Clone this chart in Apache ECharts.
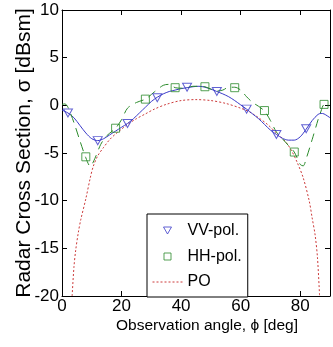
<!DOCTYPE html>
<html>
<head>
<meta charset="utf-8">
<script src="https://cdn.jsdelivr.net/npm/echarts@6/dist/echarts.min.js"></script>
<style>html,body{margin:0;padding:0;background:#fff}#c{width:333px;height:347px}</style>
</head>
<body>
<div id="c"></div>
<script>
// Marker data
const vvAngles = [2, 12, 22, 32, 42, 52, 62, 72, 82];
const vvValues = [-0.8, -3.7, -1.9, 0.8, 1.9, 1.45, -0.4, -3.05, -2.45];
const hhAngles = [8, 18, 28, 38, 48, 58, 68, 78, 88];
const hhValues = [-5.4, -2.4, 0.65, 1.85, 1.95, 1.85, -0.55, -4.9, 0.1];

// Curves
const vvCurveAngles = [0, 2, 4, 6, 8, 10, 12, 14, 16, 18, 20, 22, 24, 26, 28, 30, 32, 34, 36, 38, 40, 42, 44, 46, 48, 50, 52, 54, 56, 58, 60, 62, 64, 66, 68, 70, 72, 74, 76, 78, 80, 82, 84, 86, 87, 88, 90];
const vvCurve = [-0.5, -0.8, -1.3, -2.1, -2.9, -3.5, -3.7, -3.5, -3.1, -2.7, -2.3, -1.9, -1.4, -0.8, -0.2, 0.4, 0.85, 1.2, 1.45, 1.6, 1.75, 1.85, 1.95, 2.0, 1.9, 1.7, 1.45, 1.2, 0.9, 0.5, 0.05, -0.4, -0.9, -1.4, -2.0, -2.6, -3.05, -3.45, -3.65, -3.65, -3.3, -2.5, -1.6, -0.95, -0.85, -0.9, -1.3];
const hhCurveAngles = [0, 1, 2, 4, 6, 8, 9.5, 11, 13, 15, 18, 20, 22, 25, 28, 31, 34, 36, 38, 40, 42, 44, 46, 48, 50, 52, 54, 56, 58, 60, 62, 64, 66, 68, 70, 72, 74, 76, 78, 80, 81, 82, 84, 86, 87, 88, 90];
const hhCurve = [0.1, 0.15, -0.2, -1.8, -3.7, -5.5, -6.4, -5.6, -4.1, -3.2, -2.4, -1.5, -0.3, 0.3, 0.65, 1.4, 2.1, 2.2, 1.85, 1.8, 1.85, 2.0, 2.0, 1.95, 1.7, 1.5, 1.6, 1.9, 1.9, 1.6, 0.9, 0.3, -0.1, -0.6, -1.6, -2.8, -3.5, -4.2, -4.9, -6.2, -6.35, -5.6, -3.6, -1.5, -0.6, 0.05, 0.0];
const poAngles = [3.4, 4, 4.6, 5.5, 6.3, 8, 9.5, 10.5, 12, 14, 16, 18, 20, 22, 25, 28, 31, 35, 40, 45, 50, 55, 60, 63, 66, 69, 72, 75, 77, 79, 81, 83, 84, 85, 85.8, 86.5];
const poCurve = [-20, -17, -15.2, -13.3, -12, -9.8, -7.6, -6.4, -5.3, -4.4, -3.6, -3.0, -2.5, -2.0, -1.4, -0.9, -0.4, 0.1, 0.5, 0.6, 0.5, 0.2, -0.3, -0.7, -1.3, -2.0, -2.9, -3.8, -4.7, -6.0, -7.6, -10, -11.8, -13.6, -16, -20];

// Axis ticks
const xTicks = [0, 20, 40, 60, 80];
const yTicks = [-20, -15, -10, -5, 0, 5, 10];

const BLUE = '#3a3ac8', GREEN = '#2a8a2a', RED = '#cc3a3a';
const FONT = '"Liberation Sans", Arial, sans-serif';
const zip = (a, b) => a.map((v, i) => [v, b[i]]);

const chart = echarts.init(document.getElementById('c'), null, {renderer: 'canvas'});
const axisCommon = {
  type: 'value',
  axisLine: {show: true, onZero: false, lineStyle: {color: '#000', width: 1}},
  axisTick: {show: true, inside: true, length: 5, lineStyle: {color: '#000'}},
  splitLine: {show: false}
};
chart.setOption({
  animation: false,
  textStyle: {fontFamily: FONT},
  grid: {left: 62, right: 3, top: 10, bottom: 51, containLabel: false},
  xAxis: [
    Object.assign({}, axisCommon, {
      position: 'bottom', min: 0, max: 90, interval: 20,
      axisLabel: {show: true, color: '#000', fontSize: 17, margin: 2, showMaxLabel: false, fontFamily: FONT,
        formatter: v => xTicks.includes(v) ? String(v) : ''},
      name: 'Observation angle, \u03d5 [deg]', nameLocation: 'middle', nameGap: 22, nameMoveOverlap: false,
      nameTextStyle: {color: '#000', fontSize: 15.5, fontFamily: FONT, padding: [0, 0, 0, 22]}
    }),
    Object.assign({}, axisCommon, {
      position: 'top', min: 0, max: 90, interval: 20,
      axisLabel: {show: false}
    })
  ],
  yAxis: [
    Object.assign({}, axisCommon, {
      position: 'left', min: -20, max: 10, interval: 5,
      axisLabel: {show: true, color: '#000', fontSize: 17, margin: 3, fontFamily: FONT,
        formatter: v => yTicks.includes(v) ? String(v) : ''},
      name: 'Radar Cross Section, \u03c3 [dBsm]', nameLocation: 'middle', nameGap: 27, nameRotate: 90, nameMoveOverlap: false,
      nameTextStyle: {color: '#000', fontSize: 21, fontFamily: FONT}
    }),
    Object.assign({}, axisCommon, {
      position: 'right', min: -20, max: 10, interval: 5,
      axisLabel: {show: false}
    })
  ],
  legend: {
    orient: 'vertical', left: 147, top: 214,
    padding: [9, 6, 7, 5], itemGap: 9.5, itemWidth: 30, itemHeight: 14,
    backgroundColor: '#fff', borderColor: '#000', borderWidth: 1, borderRadius: 0,
    textStyle: {color: '#000', fontSize: 16, fontFamily: FONT},
    selectedMode: false,
    data: [
      {name: 'VV-pol.', icon: 'path://M0,0M30,14M11,3L19,3L15,10Z',
        itemStyle: {color: 'rgba(0,0,0,0)', borderColor: BLUE, borderWidth: 1}},
      {name: 'HH-pol.', icon: 'path://M0,0M30,14M11.5,3.5L18.5,3.5L18.5,10.5L11.5,10.5Z',
        itemStyle: {color: 'rgba(0,0,0,0)', borderColor: GREEN, borderWidth: 1}},
      {name: 'PO', itemStyle: {color: 'rgba(0,0,0,0)', borderWidth: 0, opacity: 0},
        lineStyle: {width: 1, color: RED, type: [2, 2]}}
    ]
  },
  series: [
    {name: 'PO', type: 'line', data: zip(poAngles, poCurve), smooth: 0.3, symbol: 'none',
      lineStyle: {color: RED, width: 1, type: [2, 2]}, itemStyle: {color: RED}, z: 2},
    {name: 'VV curve', type: 'line', data: zip(vvCurveAngles, vvCurve), smooth: 0.3, symbol: 'none',
      lineStyle: {color: BLUE, width: 1}, z: 3},
    {name: 'HH curve', type: 'line', data: zip(hhCurveAngles, hhCurve), smooth: 0.3, symbol: 'none',
      lineStyle: {color: GREEN, width: 1, type: [9, 6]}, z: 3},
    {name: 'VV-pol.', type: 'scatter', data: zip(vvAngles, vvValues), symbol: 'path://M0,0L10,0L5,9Z', symbolSize: [9, 8],
      itemStyle: {color: 'rgba(0,0,0,0)', borderColor: BLUE, borderWidth: 1}, z: 4},
    {name: 'HH-pol.', type: 'scatter', data: zip(hhAngles, hhValues), symbol: 'rect', symbolSize: 8,
      itemStyle: {color: 'rgba(0,0,0,0)', borderColor: GREEN, borderWidth: 1}, z: 4}
  ]
});
</script>
</body>
</html>
